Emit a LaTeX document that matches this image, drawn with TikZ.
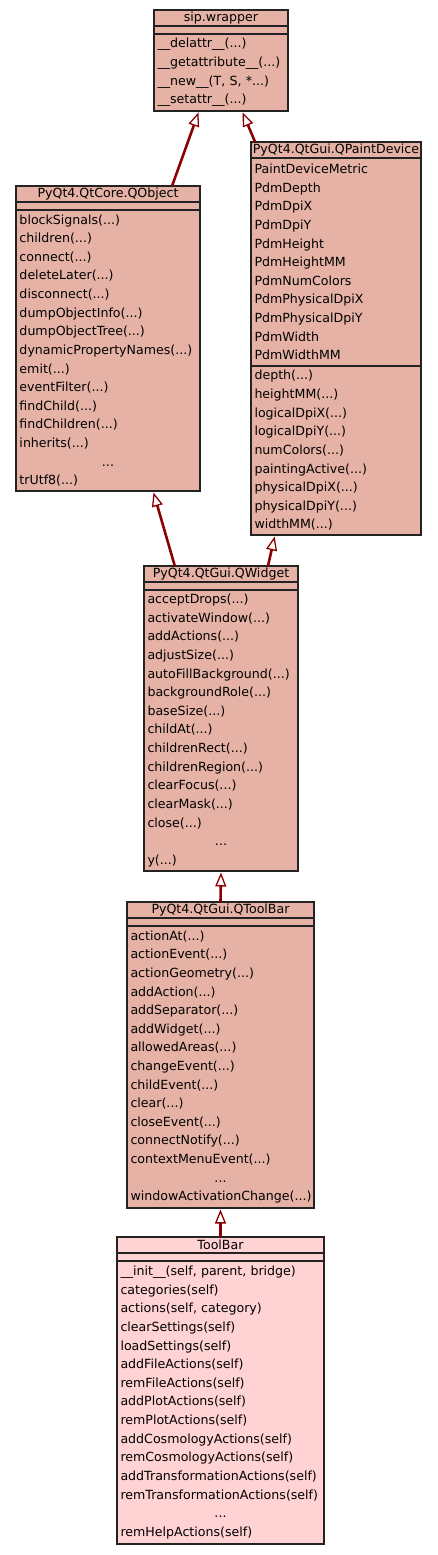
\documentclass[tikz,border=0pt]{standalone}
\usepackage{fontspec}
\setmainfont{DejaVu Sans}
\usetikzlibrary{positioning, arrows.meta, calc}
\definecolor{inhfill}{RGB}{229,178,165}
\definecolor{ownfill}{RGB}{255,210,212}
\definecolor{umlline}{RGB}{35,35,35}
\definecolor{umlarrow}{RGB}{139,0,0}
\newcommand{\umlfont}{\fontsize{12.6}{18.62}\selectfont}
\newcommand{\umldots}{\hfill...\hfill\null}
\tikzset{
    clshead/.style={rectangle, draw=umlline, fill=#1, line width=1.2pt, outer sep=0pt, inner xsep=0pt, inner ysep=0pt, minimum height=16pt, font=\umlfont, anchor=north west},
    clshead/.default=inhfill,
    clsattr/.style={rectangle, draw=umlline, fill=#1, line width=1.2pt, outer sep=0pt, inner sep=0pt, minimum height=8pt},
    clsattr/.default=inhfill,
    clsbody/.style={rectangle, draw=umlline, fill=#1, line width=1.2pt, outer sep=0pt, inner xsep=3.5pt, inner ysep=0pt, align=left, font=\umlfont},
    clsbody/.default=inhfill,
    inherit/.style={-{Triangle[open, length=14pt, width=11pt, line width=1.3pt]}, line width=2.6pt, color=umlarrow, shorten >=1.5pt}
}

\begin{document}
\begin{tikzpicture}[x=1pt, y=-1pt]
    \useasboundingbox (0,0) rectangle (437,1555);

    % sip.wrapper
    \node[clshead, minimum width=134pt] (sipHead) at (154,10) {sip.wrapper};
    \node[clsattr, minimum width=134pt, below=0pt of sipHead] (sipAttr) {};
    \node[clsbody, text width=127pt, minimum height=77pt, below=0pt of sipAttr] (sipBody) {\_\_delattr\_\_(...)\\\_\_getattribute\_\_(...)\\\_\_new\_\_(T, S, *...)\\\_\_setattr\_\_(...)};

    % PyQt4.QtCore.QObject
    \node[clshead, minimum width=184pt] (qobjHead) at (16,186) {PyQt4.QtCore.QObject};
    \node[clsattr, minimum width=184pt, below=0pt of qobjHead] (qobjAttr) {};
    \node[clsbody, text width=177pt, minimum height=281pt, below=0pt of qobjAttr] (qobjBody) {blockSignals(...)\\children(...)\\connect(...)\\deleteLater(...)\\disconnect(...)\\dumpObjectInfo(...)\\dumpObjectTree(...)\\dynamicPropertyNames(...)\\emit(...)\\eventFilter(...)\\findChild(...)\\findChildren(...)\\inherits(...)\\\umldots\\trUtf8(...)};

    % PyQt4.QtGui.QPaintDevice
    \node[clshead, minimum width=170pt] (qpdHead) at (251,142) {PyQt4.QtGui.QPaintDevice};
    \node[clsbody, text width=163pt, minimum height=208pt, below=0pt of qpdHead] (qpdAttr) {PaintDeviceMetric\\PdmDepth\\PdmDpiX\\PdmDpiY\\PdmHeight\\PdmHeightMM\\PdmNumColors\\PdmPhysicalDpiX\\PdmPhysicalDpiY\\PdmWidth\\PdmWidthMM};
    \node[clsbody, text width=163pt, minimum height=169pt, below=0pt of qpdAttr] (qpdBody) {depth(...)\\heightMM(...)\\logicalDpiX(...)\\logicalDpiY(...)\\numColors(...)\\paintingActive(...)\\physicalDpiX(...)\\physicalDpiY(...)\\widthMM(...)};

    % PyQt4.QtGui.QWidget
    \node[clshead, minimum width=154pt] (qwHead) at (144,566) {PyQt4.QtGui.QWidget};
    \node[clsattr, minimum width=154pt, below=0pt of qwHead] (qwAttr) {};
    \node[clsbody, text width=147pt, minimum height=281pt, below=0pt of qwAttr] (qwBody) {acceptDrops(...)\\activateWindow(...)\\addActions(...)\\adjustSize(...)\\autoFillBackground(...)\\backgroundRole(...)\\baseSize(...)\\childAt(...)\\childrenRect(...)\\childrenRegion(...)\\clearFocus(...)\\clearMask(...)\\close(...)\\\umldots\\y(...)};

    % PyQt4.QtGui.QToolBar
    \node[clshead, minimum width=187pt] (qtbHead) at (127,902) {PyQt4.QtGui.QToolBar};
    \node[clsattr, minimum width=187pt, below=0pt of qtbHead] (qtbAttr) {};
    \node[clsbody, text width=180pt, minimum height=282pt, below=0pt of qtbAttr] (qtbBody) {actionAt(...)\\actionEvent(...)\\actionGeometry(...)\\addAction(...)\\addSeparator(...)\\addWidget(...)\\allowedAreas(...)\\changeEvent(...)\\childEvent(...)\\clear(...)\\closeEvent(...)\\connectNotify(...)\\contextMenuEvent(...)\\\umldots\\windowActivationChange(...)};

    % ToolBar
    \node[clshead=ownfill, minimum width=207pt] (tbHead) at (117,1237) {ToolBar};
    \node[clsattr=ownfill, minimum width=207pt, below=0pt of tbHead] (tbAttr) {};
    \node[clsbody=ownfill, text width=200pt, minimum height=283pt, below=0pt of tbAttr] (tbBody) {\_\_init\_\_(self, parent, bridge)\\categories(self)\\actions(self, category)\\clearSettings(self)\\loadSettings(self)\\addFileActions(self)\\remFileActions(self)\\addPlotActions(self)\\remPlotActions(self)\\addCosmologyActions(self)\\remCosmologyActions(self)\\addTransformationActions(self)\\remTransformationActions(self)\\\umldots\\remHelpActions(self)};

    % Inheritance arrows
    \draw[inherit] ($(qobjHead.north west)!0.848!(qobjHead.north east)$) -- ($(sipBody.south west)!0.336!(sipBody.south east)$);
    \draw[inherit] ($(qpdHead.north west)!0.024!(qpdHead.north east)$) -- ($(sipBody.south west)!0.657!(sipBody.south east)$);
    \draw[inherit] ($(qwHead.north west)!0.20!(qwHead.north east)$) -- ($(qobjBody.south west)!0.745!(qobjBody.south east)$);
    \draw[inherit] ($(qwHead.north west)!0.805!(qwHead.north east)$) -- ($(qpdBody.south west)!0.141!(qpdBody.south east)$);
    \draw[inherit] (qtbHead.north) -- (qwBody.south);
    \draw[inherit] (tbHead.north) -- (qtbBody.south);
\end{tikzpicture}
\end{document}
